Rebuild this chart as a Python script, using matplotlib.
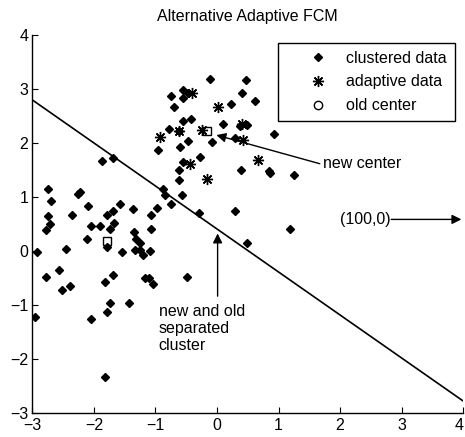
import matplotlib
matplotlib.use("Agg")
import matplotlib.pyplot as plt
from matplotlib.lines import Line2D

plt.rcParams['font.family'] = ['Liberation Sans', 'DejaVu Sans']

# ---- data ----
cluster_x = [-0.12, 0.47, 0.41, 0.62, 0.22, -0.75, -0.55, -0.56, -0.47, -0.70,
             -0.56, -0.42, -0.78, -0.61, 0.09, 0.37, 0.48, -0.08, 0.29, 0.93,
             -0.96, -0.47, -0.60, -0.27, -0.55, -0.61, -0.61, 0.39, 0.84, 0.86,
             1.25, -0.87, -0.85, -0.57, -0.74, -0.97, -0.29, 0.29, 1.18, 0.49,
             -0.49, -1.87, -1.69, -2.74, -2.22, -2.25, -2.70, -1.58, -2.09, -1.36,
             -2.74, -2.36, -1.69, -1.78, -1.08, -2.71, -2.77, -2.04, -1.90, -1.67,
             -1.74, -1.08, -1.35, -2.11, -1.79, -1.31, -1.25, -2.45, -2.93, -1.55,
             -1.33, -1.25, -1.20, -1.09, -2.56, -2.77, -1.69, -1.82, -1.17, -1.11,
             -1.04, -2.39, -2.51, -1.73, -1.43, -1.78, -2.04, -2.96, -1.82]
cluster_y = [3.19, 3.17, 2.93, 2.78, 2.72, 2.88, 2.98, 2.84, 2.92, 2.67,
             2.41, 2.45, 2.27, 2.23, 2.35, 2.31, 2.33, 2.03, 2.09, 2.17,
             1.88, 2.04, 1.93, 1.74, 1.65, 1.51, 1.31, 1.50, 1.48, 1.44,
             1.41, 1.15, 1.04, 1.04, 0.88, 0.81, 0.70, 0.74, 0.41, 0.15,
             -0.48, 1.67, 1.72, 1.15, 1.10, 1.06, 0.93, 0.88, 0.84, 0.79,
             0.65, 0.68, 0.75, 0.68, 0.68, 0.51, 0.39, 0.46, 0.46, 0.52,
             0.42, 0.41, 0.35, 0.22, 0.08, 0.22, 0.15, 0.05, -0.01, -0.01,
             0.02, 0.03, -0.06, 0.01, -0.35, -0.48, -0.43, -0.57, -0.49, -0.49,
             -0.61, -0.64, -0.72, -0.95, -0.95, -1.12, -1.25, -1.22, -2.33]

adaptive_x = [-0.41, 0.02, 0.40, 0.43, -0.25, -0.61, -0.93, -0.44, -0.16, 0.66]
adaptive_y = [2.92, 2.66, 2.36, 2.06, 2.24, 2.23, 2.12, 1.62, 1.34, 1.69]

old_center_x = [-1.78]
old_center_y = [0.19]
new_center_x = [-0.16]
new_center_y = [2.22]

boundary_x = [-3, 4]
boundary_y = [2.8, -2.77]

x_ticks = [-3, -2, -1, 0, 1, 2, 3, 4]
y_ticks = [-3, -2, -1, 0, 1, 2, 3, 4]

FS = 11.5

fig = plt.figure(figsize=(4.65, 4.37), dpi=100)
ax = fig.add_axes([0.0695, 0.0538, 0.9267, 0.866])

ax.plot(boundary_x, boundary_y, color='k', lw=1.2, zorder=2)
ax.plot(cluster_x, cluster_y, linestyle='none', marker='D', ms=3.8,
        color='k', zorder=3)
ax.plot(adaptive_x, adaptive_y, linestyle='none', marker=(8, 2, 0), ms=8,
        mew=1.0, color='k', zorder=4)
ax.plot(old_center_x, old_center_y, linestyle='none', marker='s', ms=6.2,
        mfc='none', mec='k', mew=1.0, zorder=5)
ax.plot(new_center_x, new_center_y, linestyle='none', marker='s', ms=6.2,
        mfc='none', mec='k', mew=1.0, zorder=5)

ax.set_xlim(-3, 4)
ax.set_ylim(-3, 4)
ax.set_xticks(x_ticks)
ax.set_yticks(y_ticks)
ax.tick_params(direction='in', length=4, width=0.8, labelsize=FS, pad=3)
xlabels = ax.get_xticklabels()
xlabels[-1].set_horizontalalignment('right')
for s in ['top', 'right']:
    ax.spines[s].set_visible(False)
for s in ['left', 'bottom']:
    ax.spines[s].set_linewidth(1.0)

ax.set_title('Alternative Adaptive FCM', fontsize=FS, pad=10)

handles = [
    Line2D([], [], linestyle='none', marker='D', ms=3.8, color='k'),
    Line2D([], [], linestyle='none', marker=(8, 2, 0), ms=8, mew=1.0, color='k'),
    Line2D([], [], linestyle='none', marker='o', ms=6, mfc='none', mec='k', mew=1.0),
]
leg = ax.legend(handles, ['clustered data', 'adaptive data', 'old center'],
                loc='upper right', bbox_to_anchor=(0.981, 0.980),
                borderaxespad=0, fontsize=FS, fancybox=False, framealpha=1,
                edgecolor='k', handlelength=4.0, handletextpad=-0.2,
                labelspacing=0.55, borderpad=0.5)
leg.get_frame().set_linewidth(1.0)

arrow = dict(arrowstyle='-|>', color='k', lw=1.0, mutation_scale=14,
             shrinkA=0, shrinkB=0)
ax.annotate('', xy=(-0.01, 2.15), xytext=(1.67, 1.62), arrowprops=arrow)
ax.text(1.72, 1.63, 'new center', fontsize=FS, va='center', ha='left')

ax.annotate('', xy=(3.97, 0.59), xytext=(2.83, 0.59), arrowprops=arrow)
ax.text(2.00, 0.59, '(100,0)', fontsize=FS, va='center', ha='left')

ax.annotate('', xy=(0.01, 0.33), xytext=(0.01, -0.83), arrowprops=arrow)
ax.text(-0.95, -0.98, 'new and old\nseparated\ncluster', fontsize=FS,
        va='top', ha='left', linespacing=1.15)

fig.savefig('out.png', dpi=100)
